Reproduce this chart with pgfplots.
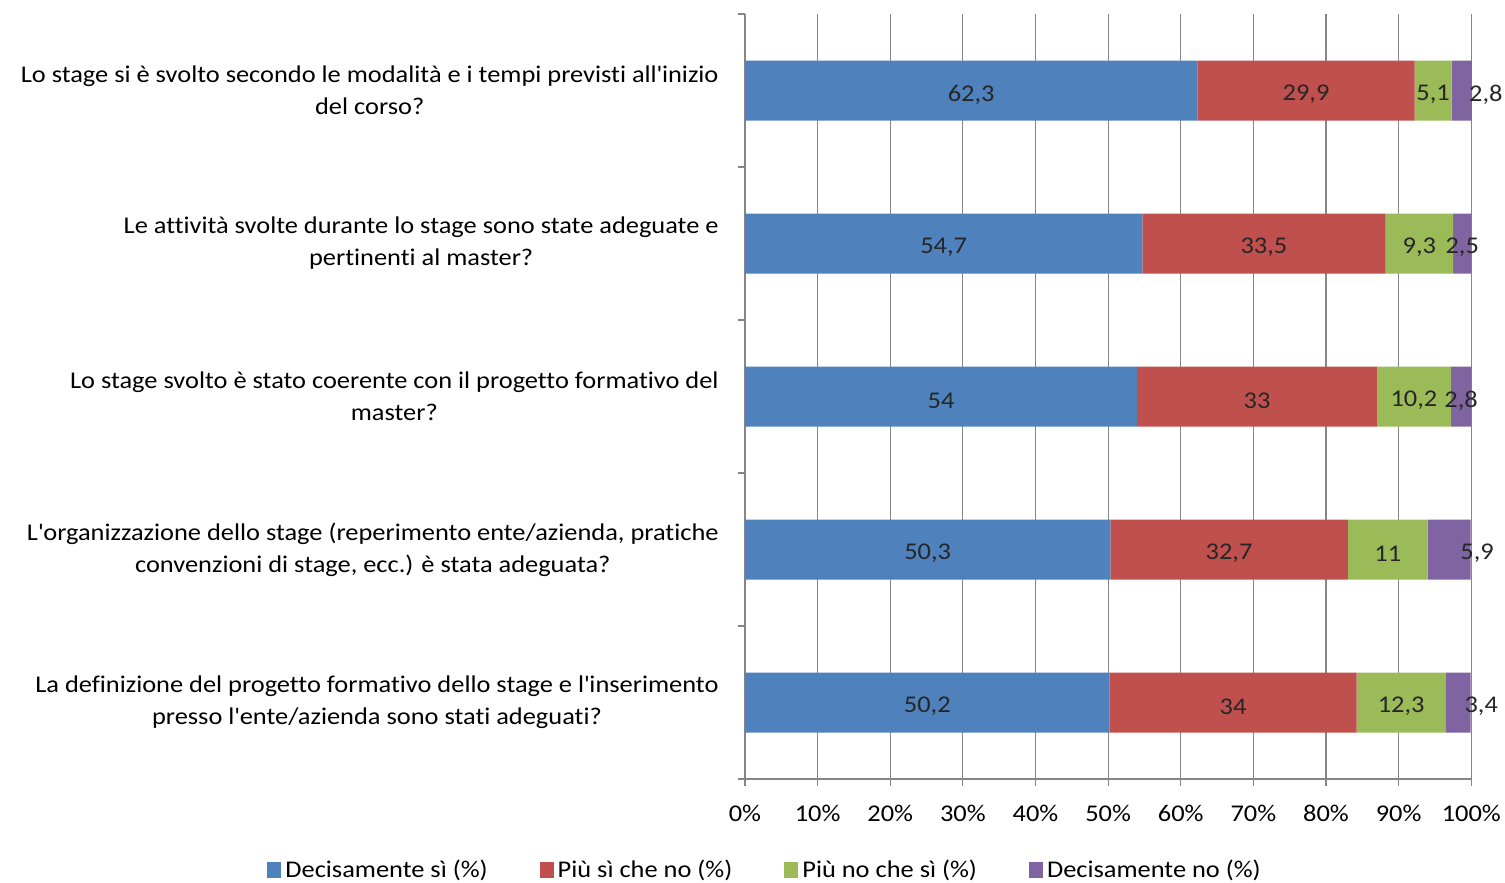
\documentclass[border=0pt]{standalone}
\usepackage{fontspec}
\setmainfont{Carlito}[FakeStretch=1.1, Ligatures=NoCommon]
\usepackage{pgfplots}
\pgfplotsset{compat=1.18}
\definecolor{cBlue}{HTML}{4F81BD}
\definecolor{cRed}{HTML}{C0504D}
\definecolor{cGreen}{HTML}{9BBB59}
\definecolor{cPurple}{HTML}{8064A2}
\definecolor{gridgray}{HTML}{868686}
\newcommand{\q}{\textquotesingle}

\begin{document}
\begin{tikzpicture}
\begin{axis}[
    name=ax,
    scale only axis,
    width=363.5pt, height=382.5pt,
    xbar stacked,
    bar width=30pt,
    xmin=0, xmax=100.1,
    ymin=-0.5, ymax=4.5,
    y dir=reverse,
    axis x line*=bottom, axis y line*=left,
    axis line style={draw=gridgray, line width=0.6pt},
    tick align=outside,
    major tick length=3.5pt,
    tick style={draw=gridgray, line width=0.6pt},
    xtick={0,10,...,100},
    xticklabel={\pgfmathprintnumber{\tick}\%},
    xticklabel style={yshift=-6pt},
    xmajorgrids,
    grid style={draw=gridgray, line width=0.6pt},
    ytick={-0.5,0.5,...,4.5},
    yticklabels={},
    extra y ticks={0,1,2,3,4},
    extra y tick labels={
        {Lo stage si è svolto secondo le modalità e i tempi previsti all\q inizio\\del corso?},
        {Le attività svolte durante lo stage sono state adeguate e\\pertinenti al master?},
        {Lo stage svolto è stato coerente con il progetto formativo del\\master?},
        {L\q organizzazione dello stage (reperimento ente/azienda, pratiche\\convenzioni di stage, ecc.) è stata adeguata?},
        {La definizione del progetto formativo dello stage e l\q inserimento\\presso l\q ente/azienda sono stati adeguati?}},
    extra y tick style={
        tick style={draw=none},
        yticklabel style={align=center, anchor=east, inner sep=0pt, xshift=-9.5pt, font=\fontsize{12}{16}\selectfont}},
    ticklabel style={font=\fontsize{12}{16}\selectfont},
    /pgf/number format/assume math mode=true,
    /pgf/number format/use comma,
    nodes near coords={\pgfmathprintnumber[use comma]{\rawx}},
    visualization depends on=rawx \as \rawx,
    every node near coord/.append style={
        anchor=center, font=\fontsize{12}{14}\selectfont, text=black!85,
        yshift=-2pt},
    legend style={draw=none, fill=none, legend columns=4,
        at={(0.029,-0.119)}, anchor=center,
        font=\fontsize{12}{14}\selectfont,
        /tikz/every even column/.append style={column sep=24pt}},
    legend cell align=left,
    legend image code/.code={\fill[#1] (0pt,-4pt) rectangle (7pt,4pt);},
]
\addplot[fill=cBlue, draw=none] coordinates {(62.3,0) (54.7,1) (54,2) (50.3,3) (50.2,4)};
\addplot[fill=cRed, draw=none] coordinates {(29.9,0) (33.5,1) (33,2) (32.7,3) (34,4)};
\addplot[fill=cGreen, draw=none] coordinates {(5.1,0) (9.3,1) (10.2,2) (11,3) (12.3,4)};
% dx: label offset (pt) where the reference pushes the label past the bar end
\addplot[fill=cPurple, draw=none,
    visualization depends on=\thisrow{dx} \as \dx,
    every node near coord/.append style={xshift=\dx pt}]
    table[x=x, y=y] {
x    y  dx
2.8  0  12
2.5  1  0
2.8  2  0
5.9  3  14
3.4  4  11.5
};
\legend{Decisamente sì (\%), Più sì che no (\%), Più no che sì (\%), Decisamente no (\%)}
\end{axis}
\pgfresetboundingbox
\path[use as bounding box] ([shift={(-372.5pt,-52pt)}]ax.south west) rectangle ([shift={(380pt,389.5pt)}]ax.south west);
\end{tikzpicture}
\end{document}
